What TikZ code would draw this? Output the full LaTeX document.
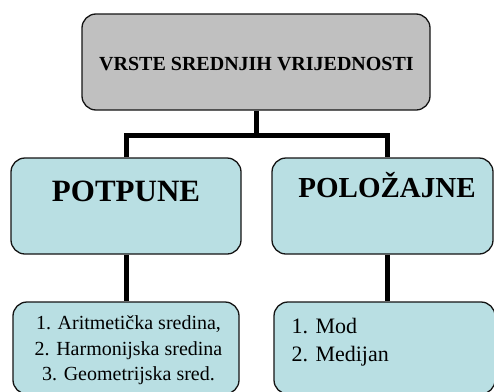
\documentclass[tikz,border=0pt]{standalone}
\usepackage{fontspec}
\newfontfamily\libs{Liberation Serif}
\definecolor{boxgray}{RGB}{192,192,192}
\definecolor{boxteal}{RGB}{185,223,227}
\definecolor{edge}{RGB}{20,20,20}
\begin{document}
\begin{tikzpicture}[x=1pt,y=-1pt]
\tikzset{
  box/.style={draw=edge,line width=1.3pt,rounded corners=14pt,inner sep=0pt,minimum width=#1},
  conn/.style={line width=5pt,black}}
\useasboundingbox (0,0) rectangle (494,391);
\node[box=348pt,fill=boxgray,minimum height=96pt] (top) at (256,62) {};
\node[box=230pt,fill=boxteal,minimum height=96pt] (midL) at (126,206) {};
\node[box=221pt,fill=boxteal,minimum height=96pt] (midR) at (382.5,206) {};
\node[box=226pt,fill=boxteal,minimum height=92pt] (botL) at (126,348) {};
\node[box=221pt,fill=boxteal,minimum height=92pt] (botR) at (384.5,348) {};
\coordinate (j) at (256,135);
\draw[conn] (top.south) -- (j);
\draw[conn] (midL.north) |- (j) -| ([xshift=4.5pt]midR.north);
\draw[conn] (midL.south) -- (botL.north);
\draw[conn] ([xshift=4.5pt]midR.south) -- ([xshift=2.5pt]botR.north);
\node[anchor=base,inner sep=0pt,font=\libs\bfseries\fontsize{20}{24}\selectfont] (t0) at (256.5,70) {VRSTE SREDNJIH VRIJEDNOSTI};
\node[anchor=base,inner sep=0pt,font=\libs\bfseries\fontsize{31}{36}\selectfont] (t1) at (126,201) {POTPUNE};
\node[anchor=base,inner sep=0pt,font=\libs\bfseries\fontsize{29}{34}\selectfont] (t2) at (387,197) {POLOŽAJNE};
\node[anchor=base,inner sep=0pt,font=\libs\fontsize{20}{24}\selectfont] (a1) at (128.5,329.5) {1. Aritmetička sredina,};
\node[anchor=base,inner sep=0pt,font=\libs\fontsize{20}{24}\selectfont] (a2) at (128.5,355.5) {2. Harmonijska sredina};
\node[anchor=base,inner sep=0pt,font=\libs\fontsize{20}{24}\selectfont] (a3) at (128.5,380.5) {3. Geometrijska sred.};
\node[anchor=base west,inner sep=0pt,font=\libs\fontsize{22}{26}\selectfont] (b1) at (291.5,333) {1. Mod};
\node[anchor=base west,inner sep=0pt,font=\libs\fontsize{22}{26}\selectfont] (b2) at (291.5,361) {2. Medijan};
\end{tikzpicture}
\end{document}
